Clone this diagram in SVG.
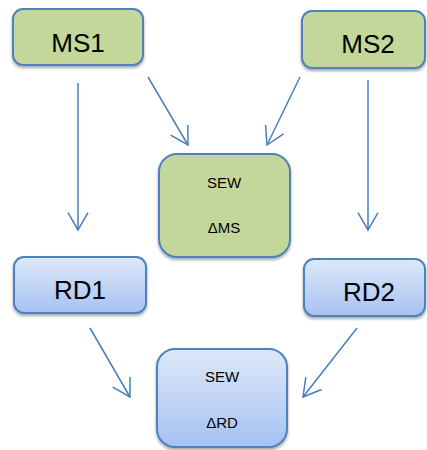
<svg xmlns="http://www.w3.org/2000/svg" width="427" height="450" viewBox="0 0 427 450">
<defs>
<linearGradient id="blueGrad" x1="0" y1="0" x2="0" y2="1">
<stop offset="0" stop-color="#dde8f9"/>
<stop offset="1" stop-color="#a6c2f2"/>
</linearGradient>
<filter id="shadow" x="-10%" y="-10%" width="120%" height="130%">
<feDropShadow dx="0" dy="2" stdDeviation="1.6" flood-color="#000" flood-opacity="0.35"/>
</filter>
<marker id="arrow" viewBox="-20 -12 22 24" refX="0" refY="0" markerWidth="22" markerHeight="24" markerUnits="userSpaceOnUse" orient="auto">
<path d="M-17.3,-10 L0,0 L-17.3,10" fill="none" stroke="#4a7ebb" stroke-width="1.5"/>
</marker>
</defs>
<style>
.green rect { fill: #c4d79b; stroke: #4f81bd; stroke-width: 2; filter: url(#shadow); }
.blue rect { fill: url(#blueGrad); stroke: #4f81bd; stroke-width: 2; filter: url(#shadow); }
.big { font-family: "Liberation Sans", Arial, sans-serif; font-size: 26px; fill: #000; text-anchor: middle; }
.small { font-family: "Liberation Sans", Arial, sans-serif; font-size: 15px; fill: #000; text-anchor: middle; }
.conn line { stroke: #4a7ebb; stroke-width: 1.5; marker-end: url(#arrow); }
</style>
<rect width="427" height="450" fill="#fff"/>
<g id="connectors" class="conn">
<line x1="78" y1="83" x2="78" y2="230"/>
<line x1="148" y1="77" x2="188" y2="145"/>
<line x1="300" y1="77" x2="267" y2="145"/>
<line x1="368" y1="80" x2="368" y2="230"/>
<line x1="90" y1="328" x2="130" y2="397"/>
<line x1="357" y1="328" x2="303" y2="397"/>
</g>
<g id="MS1" class="green">
<rect x="13" y="9" width="130" height="56" rx="10"/>
<text class="big" x="78" y="52">MS1</text>
</g>
<g id="MS2" class="green">
<rect x="302" y="11" width="123" height="57" rx="10"/>
<text class="big" x="368" y="53">MS2</text>
</g>
<g id="SEW_MS" class="green">
<rect x="159" y="154" width="131" height="103" rx="18"/>
<text class="small" x="224" y="188">SEW</text>
<text class="small" x="224" y="233">ΔMS</text>
</g>
<g id="RD1" class="blue">
<rect x="14" y="257" width="132" height="56" rx="10"/>
<text class="big" x="80" y="299">RD1</text>
</g>
<g id="RD2" class="blue">
<rect x="304" y="259" width="121" height="57" rx="10"/>
<text class="big" x="369" y="301">RD2</text>
</g>
<g id="SEW_RD" class="blue">
<rect x="157" y="349" width="130" height="98" rx="18"/>
<text class="small" x="222" y="382">SEW</text>
<text class="small" x="222" y="428">ΔRD</text>
</g>
</svg>
